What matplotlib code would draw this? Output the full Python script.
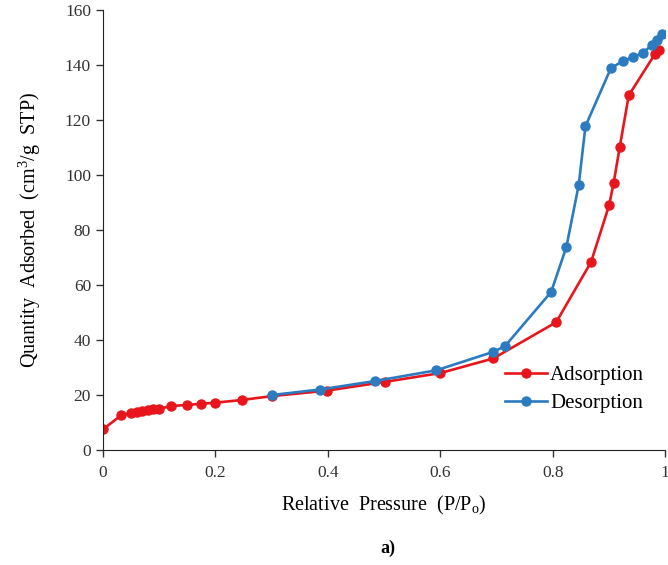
import matplotlib as mpl
import matplotlib.pyplot as plt

# isotherm data
ADS_P = [0.0, 0.033, 0.05, 0.06, 0.07, 0.08, 0.09, 0.10, 0.122, 0.149,
         0.174, 0.199, 0.247, 0.30, 0.398, 0.502, 0.60, 0.694, 0.806,
         0.868, 0.900, 0.908, 0.919, 0.935, 0.982, 0.988]
ADS_Q = [7.5, 12.7, 13.5, 14.0, 14.3, 14.6, 14.8, 15.0, 16.0, 16.4,
         16.8, 17.2, 18.2, 19.6, 21.6, 24.8, 28.0, 33.3, 46.5,
         68.4, 89.0, 97.0, 110.3, 129.0, 144.2, 145.5]
DES_P = [0.30, 0.386, 0.484, 0.593, 0.694, 0.715, 0.797, 0.824, 0.846,
         0.858, 0.903, 0.924, 0.942, 0.960, 0.976, 0.985, 0.994]
DES_Q = [20.0, 22.0, 25.1, 29.0, 35.7, 37.8, 57.5, 73.8, 96.4,
         117.8, 138.8, 141.5, 142.8, 144.5, 147.3, 149.3, 151.5]
X_TICKS = [0, 0.2, 0.4, 0.6, 0.8, 1]
X_LABELS = ['0', '0.2', '0.4', '0.6', '0.8', '1']
Y_TICKS = list(range(0, 161, 20))

RED = '#e8161c'
BLUE = '#2a7bc0'

mpl.rcParams['font.family'] = ['Liberation Serif', 'DejaVu Serif']
mpl.rcParams['mathtext.fontset'] = 'custom'
mpl.rcParams['mathtext.rm'] = 'Liberation Serif'

fig = plt.figure(figsize=(6.68, 5.65), dpi=100)
ax = fig.add_axes([0.154, 0.2035, 0.842, 0.7785])

ax.plot(ADS_P, ADS_Q, color=RED, marker='o', markersize=6.5, linewidth=1.9,
        label='Adsorption')
ax.plot(DES_P, DES_Q, color=BLUE, marker='o', markersize=6.5, linewidth=1.9,
        label='Desorption')

ax.set_xlim(0, 1)
ax.set_ylim(0, 160)
ax.set_xticks(X_TICKS)
ax.set_xticklabels(X_LABELS)
ax.set_yticks(Y_TICKS)
ax.tick_params(labelsize=12.5, direction='out', length=5, width=1,
               colors='#333333')
ax.tick_params(axis='x', pad=6)
for side in ['top', 'right']:
    ax.spines[side].set_visible(False)
for side in ['left', 'bottom']:
    ax.spines[side].set_color('#222222')

ax.set_xlabel('Relative  Pressure  (P/P$_\\mathregular{o}$)', fontsize=14.5,
              labelpad=9)
ax.set_ylabel('Quantity  Adsorbed  (cm$^\\mathregular{3}$/g  STP)',
              fontsize=14.5, labelpad=16)

ax.legend(loc='upper left', bbox_to_anchor=(0.697, 0.215), frameon=False,
          fontsize=15, handlelength=2.0, handletextpad=0.15,
          labelspacing=0.4, borderpad=0)

fig.text(0.58, 0.03, 'a)', fontsize=13, fontweight='bold', ha='center',
         va='center')

fig.savefig('out.png', dpi=100)
